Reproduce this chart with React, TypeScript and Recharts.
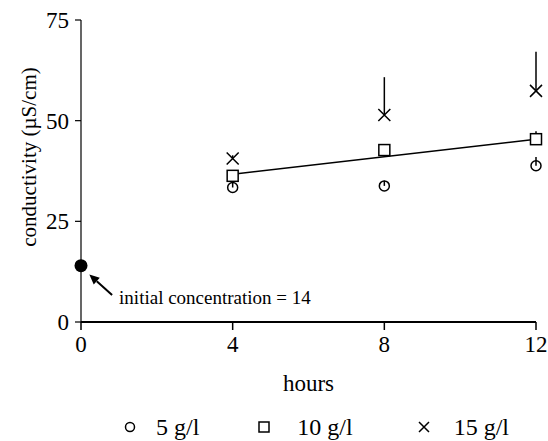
import React from 'react';
import { ComposedChart, Scatter, Line, XAxis, YAxis, ErrorBar, ReferenceLine } from 'recharts';

const hours = [4, 8, 12];
const values5 = [33.4, 33.8, 38.8];
const upErr5 = [1.3, 1.3, 2.2];
const values10 = [36.3, 42.7, 45.4];
const upErr10 = [1.2, 1.3, 2.0];
const values15 = [40.6, 51.4, 57.4];
const upErr15 = [0.8, 9.4, 9.7];
const fitHours = [4, 12];
const fitValues = [36.7, 45.4];
const initialHour = 0;
const initialValue = 14;
const xTicks = [0, 4, 8, 12];
const yTicks = [0, 25, 50, 75];
const seriesNames = ['5 g/l', '10 g/l', '15 g/l'];

const FONT = 'Liberation Serif, DejaVu Serif, serif';

const toPoints = (vals: number[], errs: number[]) =>
  hours.map((h, i) => ({ x: h, y: vals[i], err: [0, errs[i]] }));

const data5 = toPoints(values5, upErr5);
const data10 = toPoints(values10, upErr10);
const data15 = toPoints(values15, upErr15);
const fitData = fitHours.map((h, i) => ({ x: h, y: fitValues[i] }));
const initialData = [{ x: initialHour, y: initialValue }];

const CircleMark = ({ cx, cy }: any) => (
  <circle cx={cx} cy={cy} r={5} fill="none" stroke="#000" strokeWidth={1.5} />
);
const SquareMark = ({ cx, cy }: any) => (
  <rect x={cx - 5.5} y={cy - 5.5} width={11} height={11} fill="#fff" stroke="#000" strokeWidth={1.5} />
);
const CrossMark = ({ cx, cy }: any) => (
  <path d={`M${cx - 6},${cy - 6}L${cx + 6},${cy + 6}M${cx - 6},${cy + 6}L${cx + 6},${cy - 6}`} stroke="#000" strokeWidth={1.5} />
);
const FilledMark = ({ cx, cy }: any) => <circle cx={cx} cy={cy} r={6.5} fill="#000" />;

const Arrow = (p: any) => {
  const { x1, y1, x2, y2 } = p;
  const dx = x2 - x1;
  const dy = y2 - y1;
  const len = Math.sqrt(dx * dx + dy * dy);
  const ux = dx / len;
  const uy = dy / len;
  const hl = 10;
  const hw = 4.5;
  const bx = x2 - ux * hl;
  const by = y2 - uy * hl;
  return (
    <g>
      <line x1={x1} y1={y1} x2={bx} y2={by} stroke="#000" strokeWidth={2} />
      <polygon
        points={`${x2},${y2} ${bx - uy * hw},${by + ux * hw} ${bx + uy * hw},${by - ux * hw}`}
        fill="#000"
      />
      <text x={x1 + 7} y={y1 + 9} style={{ fontFamily: FONT, fontSize: 19 }} fill="#000">
        initial concentration = 14
      </text>
    </g>
  );
};

const YLabel = ({ viewBox }: any) => {
  const x = viewBox.x + 29;
  const y = viewBox.y + viewBox.height / 2 - 14;
  return (
    <text
      x={x}
      y={y}
      transform={`rotate(-90, ${x}, ${y})`}
      textAnchor="middle"
      dominantBaseline="central"
      style={{ fontFamily: FONT, fontSize: 21 }}
      fill="#000"
    >
      conductivity (µS/cm)
    </text>
  );
};

const legendMarks = [
  <svg width={12} height={12}><circle cx={6} cy={6} r={4.5} fill="none" stroke="#000" strokeWidth={1.5} /></svg>,
  <svg width={12} height={12}><rect x={1} y={1} width={10} height={10} fill="none" stroke="#000" strokeWidth={1.5} /></svg>,
  <svg width={12} height={12}><path d="M1,1L11,11M1,11L11,1" stroke="#000" strokeWidth={1.5} /></svg>,
];
const legendTextGap = [20, 27, 24];
const legendItemGap = [59, 65, 0];

const tickStyle = { fontFamily: FONT, fontSize: 23, fill: '#000' };

export default function App() {
  return (
    <div style={{ position: 'absolute', left: 0, top: 0, width: 548, height: 441, background: '#fff', fontFamily: FONT }}>
      <ComposedChart width={548} height={441} margin={{ top: 20, right: 12, bottom: 49, left: 0 }} style={{ fontFamily: FONT }}>
        <XAxis
          dataKey="x"
          type="number"
          domain={[0, 12]}
          ticks={xTicks}
          axisLine={{ stroke: '#000', strokeWidth: 2 }}
          tickLine={{ stroke: '#000', strokeWidth: 1.5 }}
          tickSize={8}
          tickMargin={6}
          tick={tickStyle}
          height={70}
          label={{ value: 'hours', position: 'insideBottom', offset: 1, style: { fontFamily: FONT, fontSize: 23, fill: '#000' } }}
        />
        <YAxis
          type="number"
          domain={[0, 75]}
          ticks={yTicks}
          width={81}
          axisLine={{ stroke: '#000', strokeWidth: 1.2 }}
          tickLine={{ stroke: '#000', strokeWidth: 1.2 }}
          tickSize={6}
          tickMargin={6}
          tick={tickStyle}
          label={{ content: YLabel }}
        />
        <Scatter data={data5} dataKey="y" shape={CircleMark} isAnimationActive={false}>
          <ErrorBar dataKey="err" direction="y" width={0} stroke="#000" strokeWidth={1.5} />
        </Scatter>
        <Scatter data={data10} dataKey="y" shape={SquareMark} isAnimationActive={false}>
          <ErrorBar dataKey="err" direction="y" width={0} stroke="#000" strokeWidth={1.5} />
        </Scatter>
        <Line data={fitData} dataKey="y" stroke="#000" strokeWidth={1.5} dot={false} activeDot={false} isAnimationActive={false} />
        <Scatter data={data15} dataKey="y" shape={CrossMark} isAnimationActive={false}>
          <ErrorBar dataKey="err" direction="y" width={0} stroke="#000" strokeWidth={1.5} />
        </Scatter>
        <Scatter data={initialData} dataKey="y" shape={FilledMark} isAnimationActive={false} />
        <ReferenceLine
          segment={[{ x: 0.82, y: 6.7 }, { x: 0.22, y: 11.8 }]}
          shape={Arrow}
          ifOverflow="visible"
        />
      </ComposedChart>
      <div
        style={{
          position: 'absolute',
          left: 124,
          top: 412,
          display: 'flex',
          alignItems: 'center',
          fontFamily: FONT,
          fontSize: 24,
          lineHeight: '30px',
        }}
      >
        {seriesNames.map((name, i) => (
          <div key={name} style={{ display: 'flex', alignItems: 'center', marginRight: legendItemGap[i] }}>
            {legendMarks[i]}
            <span style={{ marginLeft: legendTextGap[i] }}>{name}</span>
          </div>
        ))}
      </div>
    </div>
  );
}
